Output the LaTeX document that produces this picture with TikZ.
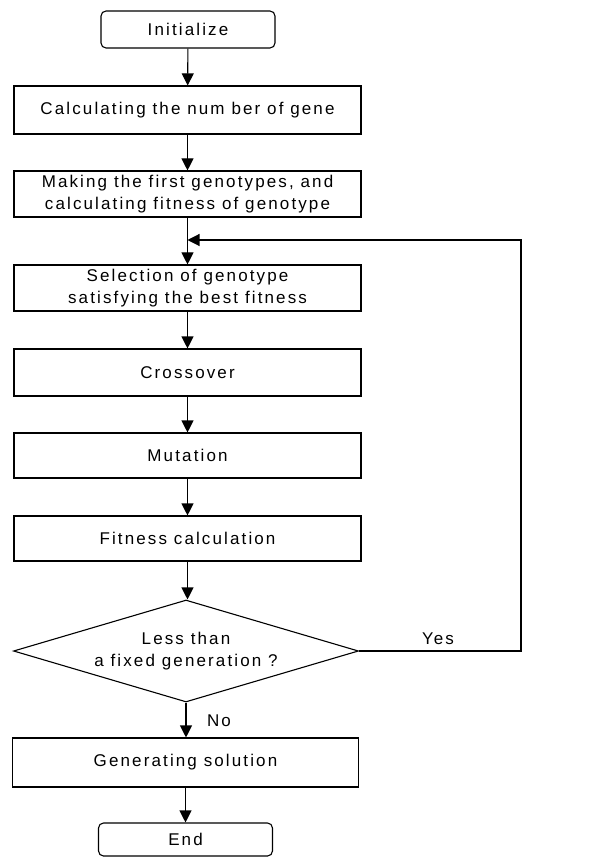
\documentclass[tikz,border=0pt]{standalone}
\usepackage{fontspec}
\setmainfont{Liberation Sans}[LetterSpace=12.5]
\usetikzlibrary{arrows.meta,shapes.geometric}
\begin{document}
\begin{tikzpicture}[x=1pt,y=1pt,line width=1.1pt,
  font=\fontsize{17}{21.5}\selectfont,
  box/.style={draw,rectangle,minimum width=347pt,align=center,inner sep=0pt},
  term/.style={draw,rectangle,rounded corners=5pt,minimum width=174pt,inner sep=0pt},
  dec/.style={draw,diamond,aspect=3.38,minimum width=345pt,minimum height=102pt,inner sep=0pt,align=center},
  arr/.style={-{Triangle[width=12pt,length=12pt]}},
  lbl/.style={inner sep=0pt}]
\useasboundingbox (0,0) rectangle (597,-858);
\node[term,minimum height=37pt] (init) at (188,-29.5) {Initialize};
\node[box,minimum height=48pt] (calc) at (187.5,-110) {Calculating the num ber of gene};
\node[box,minimum height=46pt] (make) at (187.5,-194) {Making the first genotypes, and\\calculating fitness of genotype};
\node[box,minimum height=46pt] (sel) at (187.5,-288) {Selection of genotype\\satisfying the best fitness};
\node[box,minimum height=47pt] (cross) at (187.5,-372.5) {Crossover};
\node[box,minimum height=45pt] (mut) at (187.5,-455.5) {Mutation};
\node[box,minimum height=45pt] (fit) at (187.5,-538.5) {Fitness calculation};
\node[dec] (dia) at (186,-651) {Less than\\a fixed generation ?};
\node[box,minimum height=49pt,minimum width=346pt] (gen) at (185.5,-762.5) {Generating solution};
\node[term,minimum height=33pt] (end) at (185.5,-839.5) {End};
\coordinate (join) at (187.5,-240);
\coordinate (rt) at (521,-651);
\node[lbl] (yes) at (438,-639) {Yes};
\node[lbl] (no) at (219,-721) {No};
\draw[arr] (init) -- (calc);
\draw[arr] (calc) -- (make);
\draw[arr] (make) -- (sel);
\draw[arr] (sel) -- (cross);
\draw[arr] (cross) -- (mut);
\draw[arr] (mut) -- (fit);
\draw[arr] (fit.south) -- (fit.south |- dia.north);
\draw[arr] (dia.south) -- (dia.south |- gen.north);
\draw[arr] (gen.south) -- (gen.south |- end.north);
\draw[arr] (dia.east) -- (rt) |- (join);
\end{tikzpicture}
\end{document}
